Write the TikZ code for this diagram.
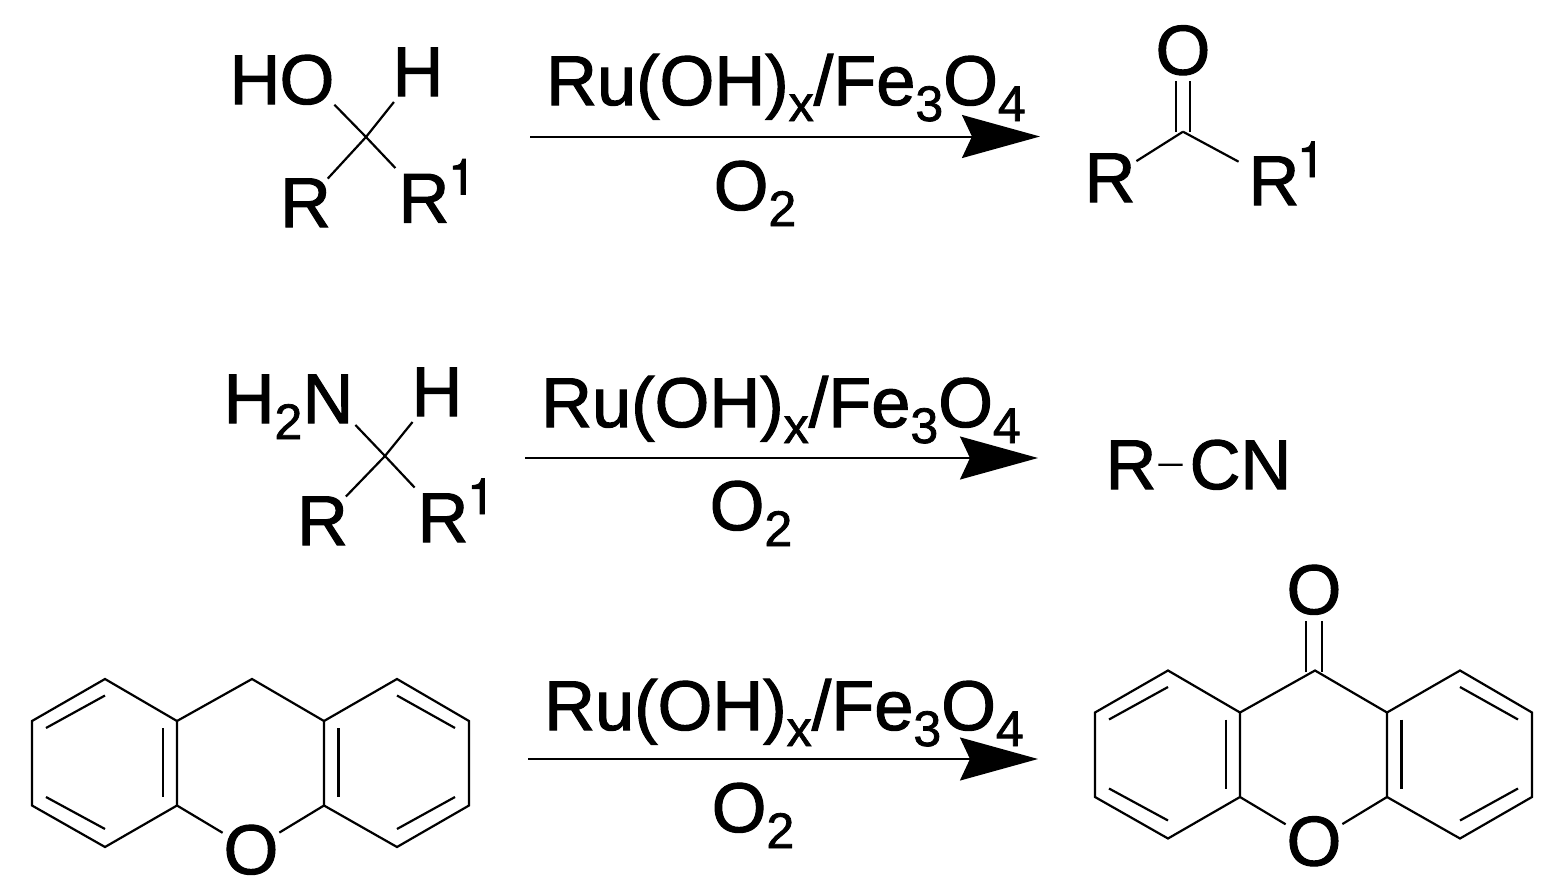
\documentclass[tikz,border=0pt]{standalone}
\usepackage{fontspec}
\setmainfont[FakeBold=1.5]{Liberation Sans}
\newfontfamily\digitfont[FakeBold=1.5]{TeX Gyre Heros}
\usetikzlibrary{arrows.meta}
\newcommand{\chemfont}{\fontsize{35.2}{40}\selectfont}
\newcommand{\subs}[1]{\raisebox{-8pt}{\fontsize{25}{28}\selectfont #1}}
\newcommand{\sups}[1]{\raisebox{14pt}{\fontsize{25}{28}\digitfont\selectfont #1}}
\tikzset{
	atom/.style={inner sep=0pt,outer sep=3pt,anchor=base,font=\chemfont},
	bond/.style={line width=1.1pt},
	dbond/.style={line width=1pt,double,double distance=7pt},
	rxn/.style={line width=1pt,-{Stealth[length=39pt,width=21.5pt,inset=5pt]}},
	xanth/.pic={
		\foreach \n/\x/\y in {c1/105/679,c2/32/721,c3/32/805.5,c4/105/847,c5/177/805.5,c6/177/721,
			c7/252/679,c8/324/721,c9/324/805.5,c10/397/679,c11/469/721,c12/469/805.5,c13/397/847,
			i1/46/728,i2/105/695.5,i3/46/797,i4/105/829,i5/163/728,i6/163/797,
			i7/338.5/728,i8/338.5/797,i9/397/695.5,i10/455/728,i11/397/829,i12/455/797}
			\coordinate (\n) at (\x,\y);
		\node[atom,outer sep=0.5pt] (o) at (251,874) {O};
		\draw[bond,line join=miter] (c6) -- (c1) -- (c2) -- (c3) -- (c4) -- (c5) -- cycle;
		\draw[bond,line join=miter] (c8) -- (c10) -- (c11) -- (c12) -- (c13) -- (c9) -- cycle;
		\draw[bond] (c6) -- (c7) -- (c8);
		\draw[bond] (c5) -- (o);
		\draw[bond] (c9) -- (o);
		\draw[bond] (i1) -- (i2);
		\draw[bond] (i3) -- (i4);
		\draw[bond] (i5) -- (i6);
		\draw[bond] (i7) -- (i8);
		\draw[bond] (i9) -- (i10);
		\draw[bond] (i11) -- (i12);
	}
}
\begin{document}
\begin{tikzpicture}[x=0.5pt,y=-0.5pt]
	\useasboundingbox (0,0) rectangle (1555,884);
	% first row
	\node[atom] (hoh) at (255,104) {H};
	\node[atom,outer sep=0pt] (hoo) at (307,104) {O};
	\node[atom] (hh) at (418,96) {H};
	\node[atom,outer sep=0pt] (hr) at (305.5,227) {R};
	\node[atom] (hrr) at (424,222.5) {R};
	\node[atom] (hrs) at (462,222.5) {\sups{1}};
	\coordinate (hc) at (366,137);
	\draw[bond] (hc) -- (hoo.south east);
	\draw[bond] (hc) -- (hh);
	\draw[bond] (hc) -- (hr);
	\draw[bond] (hc) -- (hrr);
	\coordinate (a1s) at (530,136.5);
	\coordinate (a1e) at (1040,136.5);
	\draw[rxn] (a1s) -- (a1e);
	\node[atom] (a1t) at (786,105) {Ru(OH)\subs{x}/Fe\subs{3}O\subs{4}};
	\node[atom] (a1b) at (755,210) {O\subs{2}};
	\node[atom] (ko) at (1183,74.5) {O};
	\node[atom,outer sep=0.5pt] (kr) at (1110,202) {R};
	\node[atom,outer sep=5pt] (krr) at (1274,205) {R};
	\node[atom] (krs) at (1311,205) {\sups{1}};
	\coordinate (kc) at (1183,131.7);
	\draw[dbond,double distance=6pt] (kc) -- (ko);
	\draw[bond] (kc) -- (kr);
	\draw[bond] (kc) -- (krr);
	% second row
	\node[atom] (nh) at (263,423) {H\subs{2}};
	\node[atom,outer sep=1pt] (nn) at (328,423) {N};
	\node[atom] (nhh) at (437,416) {H};
	\node[atom,outer sep=0pt] (nr) at (322.5,545) {R};
	\node[atom] (nrr) at (443,542) {R};
	\node[atom] (nrs) at (481,542) {\sups{1}};
	\coordinate (nc) at (385,456);
	\draw[bond] (nc) -- (nn.south east);
	\draw[bond] (nc) -- (nhh);
	\draw[bond] (nc) -- (nr);
	\draw[bond] (nc) -- (nrr);
	\coordinate (a2s) at (525,458);
	\coordinate (a2e) at (1038,458);
	\draw[rxn] (a2s) -- (a2e);
	\node[atom] (a2t) at (781,427) {Ru(OH)\subs{x}/Fe\subs{3}O\subs{4}};
	\node[atom] (a2b) at (751,530) {O\subs{2}};
	\node[atom,outer sep=1pt] (cr) at (1131,489) {R};
	\node[atom,outer sep=1pt] (cn) at (1240.5,489) {CN};
	\draw[bond,yshift=1.5pt,shorten >=2.5pt] (cr) -- (cn);
	% third row
	\pic (xl) at (0,0) {xanth};
	\coordinate (a3s) at (528,759);
	\coordinate (a3e) at (1038,759);
	\draw[rxn] (a3s) -- (a3e);
	\node[atom] (a3t) at (784,730) {Ru(OH)\subs{x}/Fe\subs{3}O\subs{4}};
	\node[atom] (a3b) at (753,832) {O\subs{2}};
	\node[atom] (xo) at (1314,614) {O};
	\coordinate (xc) at (1314,672);
	\draw[dbond] (xc) -- (xo);
	\pic (xr) at (1063,-8.5) {xanth};
\end{tikzpicture}
\end{document}
